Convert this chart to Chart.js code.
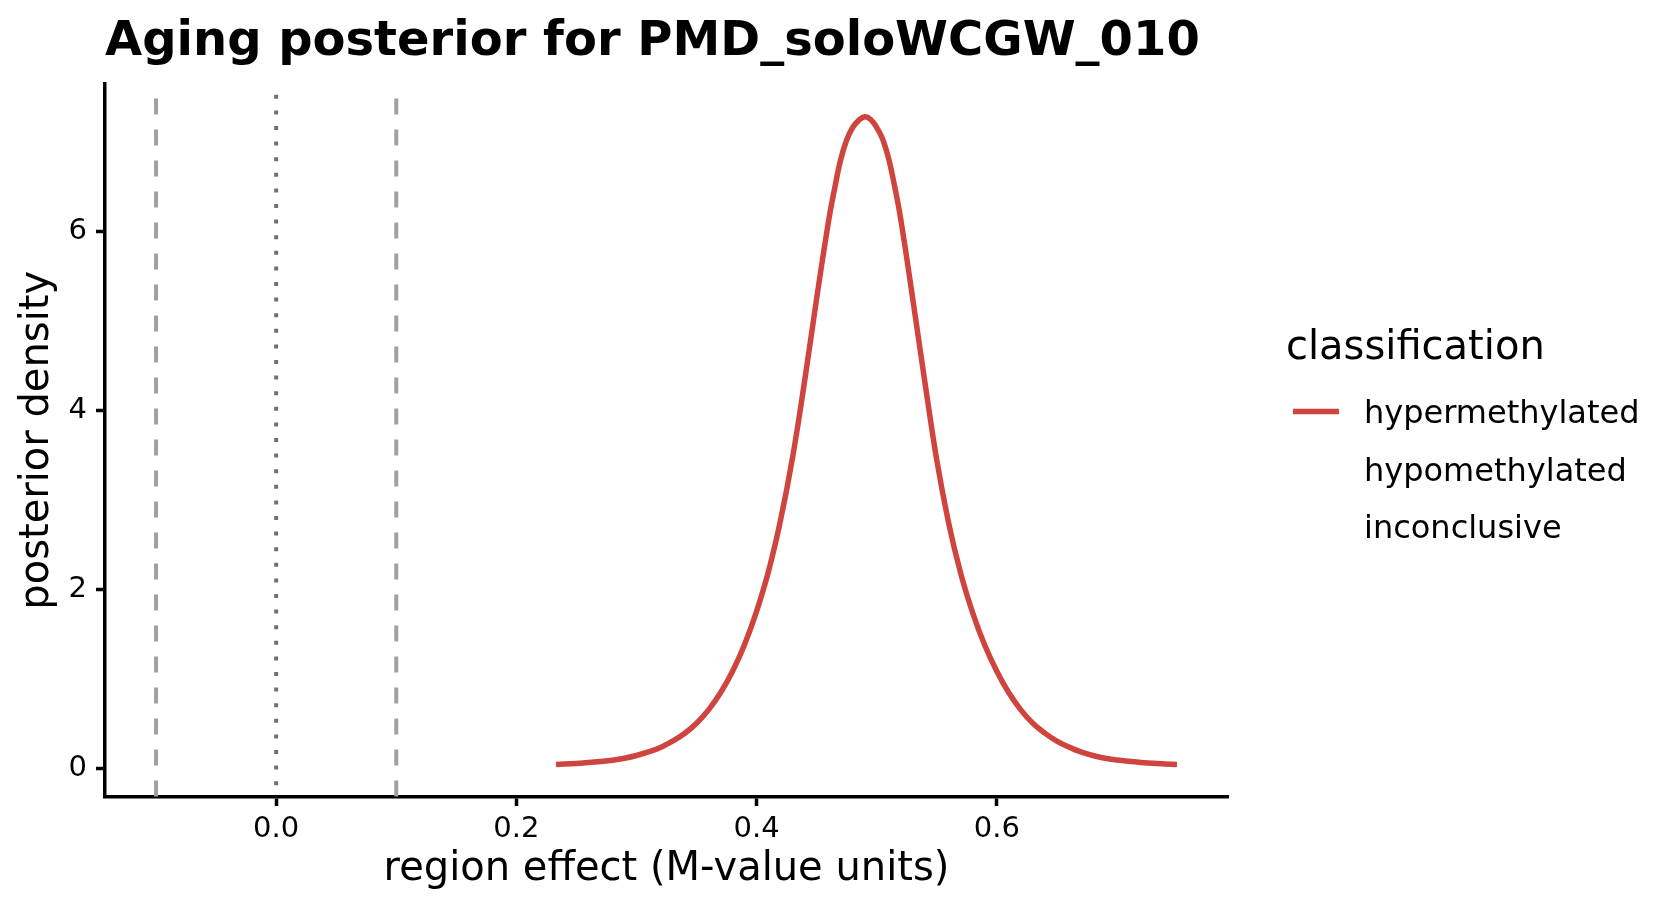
<!DOCTYPE html>
<html>
<head>
<meta charset="utf-8">
<script src="https://cdn.jsdelivr.net/npm/chart.js@4.4.1/dist/chart.umd.min.js"></script>
<style>
  html, body { margin: 0; padding: 0; background: #FFFFFF; }
</style>
</head>
<body>
<canvas id="posterior" width="1680" height="912"></canvas>
<script>
// posterior density of the region effect
const effectX = [
  0.233, 0.24, 0.25, 0.26, 0.27, 0.28, 0.29, 0.30, 0.31, 0.32,
  0.33, 0.34, 0.35, 0.36, 0.37, 0.38, 0.39, 0.40, 0.41, 0.42,
  0.43, 0.44, 0.45, 0.46, 0.465, 0.47, 0.475, 0.48, 0.485, 0.49,
  0.495, 0.50, 0.505, 0.51, 0.515, 0.52, 0.53, 0.54, 0.55, 0.56,
  0.57, 0.58, 0.59, 0.60, 0.61, 0.62, 0.63, 0.64, 0.65, 0.66,
  0.67, 0.68, 0.69, 0.70, 0.71, 0.72, 0.73, 0.74, 0.75
];
const densityY = [
  0.05, 0.055, 0.062, 0.071, 0.083, 0.098, 0.12, 0.15, 0.19, 0.24,
  0.31, 0.395, 0.51, 0.66, 0.85, 1.09, 1.39, 1.76, 2.21, 2.78,
  3.48, 4.33, 5.25, 6.12, 6.48, 6.80, 7.02, 7.16, 7.24, 7.28,
  7.25, 7.16, 7.03, 6.81, 6.50, 6.14, 5.25, 4.33, 3.45, 2.74,
  2.18, 1.74, 1.38, 1.09, 0.85, 0.66, 0.51, 0.40, 0.31, 0.245,
  0.19, 0.15, 0.12, 0.10, 0.085, 0.073, 0.063, 0.056, 0.05
];
const classes = ['hypermethylated', 'hypomethylated', 'inconclusive'];
const classColors = ['#D04440', '#3B6FB6', '#9E9E9E'];
const xTicks = [0, 0.2, 0.4, 0.6];
const yTicks = [0, 2, 4, 6];
const thresholds = [-0.1, 0.1];
const nullEffect = 0;

Chart.defaults.font.family = "'DejaVu Sans', sans-serif";
Chart.defaults.color = '#000000';

const refLines = {
    id: 'refLines',
    beforeDatasetsDraw(chart) {
        const {ctx, chartArea, scales} = chart;
        const drawV = (value, dash, offset, color, width) => {
            const px = scales.x.getPixelForValue(value);
            ctx.beginPath();
            ctx.setLineDash(dash);
            ctx.lineDashOffset = offset;
            ctx.strokeStyle = color;
            ctx.lineWidth = width;
            ctx.moveTo(px, chartArea.top);
            ctx.lineTo(px, chartArea.bottom);
            ctx.stroke();
        };
        ctx.save();
        ctx.lineCap = 'butt';
        thresholds.forEach(v => drawV(v, [16, 15], 16.2, '#A0A0A0', 4));
        drawV(nullEffect, [4, 11.6], 4.4, '#707070', 4);
        ctx.restore();
    }
};

// ggplot style legend: keys only for classes that have data
const keyLegend = {
    id: 'keyLegend',
    afterDraw(chart) {
        const ctx = chart.ctx;
        ctx.save();
        ctx.fillStyle = '#000000';
        ctx.textBaseline = 'alphabetic';
        ctx.textAlign = 'left';
        ctx.font = "40px 'DejaVu Sans'";
        ctx.fillText('classification', 1286, 359);
        ctx.font = "32px 'DejaVu Sans'";
        chart.data.datasets.forEach((ds, i) => {
            const base = 423 + i * 57.7;
            if (ds.data.length) {
                ctx.strokeStyle = ds.borderColor;
                ctx.lineWidth = 5.5;
                ctx.beginPath();
                ctx.moveTo(1293, base - 11.6);
                ctx.lineTo(1339, base - 11.6);
                ctx.stroke();
            }
            ctx.fillText(ds.label, 1364, base);
        });
        ctx.restore();
    }
};

const ctx = document.getElementById('posterior');

new Chart(ctx, {
    type: 'line',
    data: {
        datasets: classes.map((name, i) => ({
            label: name,
            data: i === 0 ? effectX.map((x, k) => ({x: x, y: densityY[k]})) : [],
            borderColor: classColors[i],
            backgroundColor: classColors[i],
            borderWidth: 5.5,
            pointRadius: 0,
            tension: 0.4,
            fill: false
        }))
    },
    options: {
        responsive: false,
        animation: false,
        layout: {
            padding: {left: 0, top: 0, right: 452, bottom: 0}
        },
        plugins: {
            legend: {display: false},
            tooltip: {enabled: false},
            title: {
                display: true,
                text: 'Aging posterior for PMD_soloWCGW_010',
                align: 'start',
                fullSize: false,
                color: '#000000',
                font: {size: 48, weight: 'bold'},
                padding: {top: 14, bottom: 12}
            }
        },
        scales: {
            x: {
                type: 'linear',
                min: -0.1425,
                max: 0.7925,
                afterBuildTicks: s => { s.ticks = xTicks.map(v => ({value: v})); },
                afterFit: s => { s.height = 115; },
                ticks: {
                    font: {size: 29},
                    color: '#000000',
                    padding: 6,
                    maxRotation: 0,
                    callback: v => v.toFixed(1)
                },
                grid: {
                    drawOnChartArea: false,
                    drawTicks: true,
                    tickLength: 9,
                    tickWidth: 3.5,
                    tickColor: '#000000'
                },
                border: {color: '#000000', width: 3.5},
                title: {
                    display: true,
                    text: 'region effect (M-value units)',
                    font: {size: 40},
                    color: '#000000',
                    padding: {top: 0, bottom: 18}
                }
            },
            y: {
                type: 'linear',
                min: -0.313,
                max: 7.65,
                afterBuildTicks: s => { s.ticks = yTicks.map(v => ({value: v})); },
                afterFit: s => { s.width = 105; },
                ticks: {
                    font: {size: 29},
                    color: '#000000',
                    padding: 9,
                    callback: v => String(v)
                },
                grid: {
                    drawOnChartArea: false,
                    drawTicks: true,
                    tickLength: 9,
                    tickWidth: 3.5,
                    tickColor: '#000000'
                },
                border: {color: '#000000', width: 3.5},
                title: {
                    display: true,
                    text: 'posterior density',
                    font: {size: 40},
                    color: '#000000',
                    padding: {top: 14, bottom: 0}
                }
            }
        }
    },
    plugins: [refLines, keyLegend]
});
</script>
</body>
</html>
